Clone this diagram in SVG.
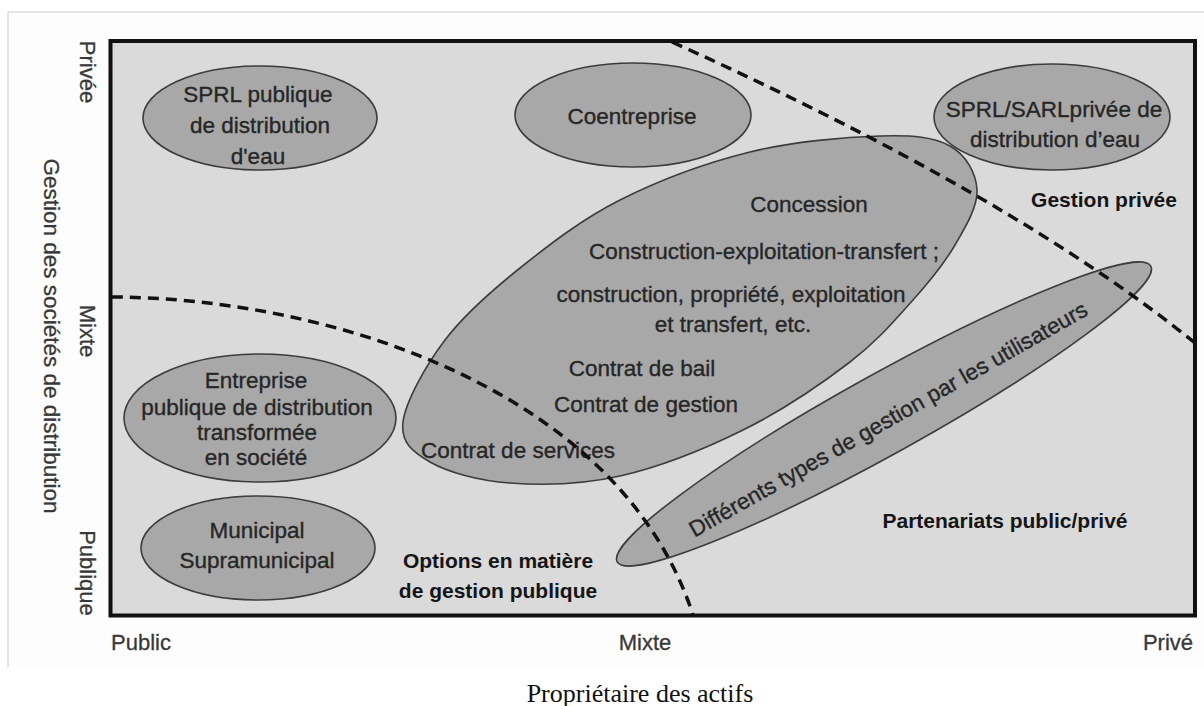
<svg xmlns="http://www.w3.org/2000/svg" width="1204" height="706" viewBox="0 0 1204 706">
<style>
.t{font-family:"Liberation Sans",Arial,sans-serif;font-size:22.5px;fill:#262626;stroke:#262626;stroke-width:0.35;text-anchor:middle}
.b{font-family:"Liberation Sans",Arial,sans-serif;font-size:21px;font-weight:bold;fill:#151515;text-anchor:middle}
.ax{font-family:"Liberation Sans",Arial,sans-serif;font-size:22px;fill:#383838;stroke:#383838;stroke-width:0.3;text-anchor:middle}
.el{fill:#a8a8a8;stroke:#3c3c3c;stroke-width:1.6}
.dash{fill:none;stroke:#111;stroke-width:3.5;stroke-dasharray:11 7}
</style>
<rect x="0" y="0" width="1204" height="706" fill="#ffffff"/>
<g id="frame">
<rect x="8" y="12" width="1196" height="655" fill="#fdfdfd"/>
<line x1="8" y1="12" x2="1204" y2="12" stroke="#dcdcdc" stroke-width="1.5"/>
<line x1="8" y1="12" x2="8" y2="667" stroke="#dcdcdc" stroke-width="1.5"/>
</g>
<g id="plot">
<rect x="110.5" y="41" width="1084.5" height="574.5" fill="#dadada" stroke="#111" stroke-width="4"/>
</g>
<g id="n-concession">
<path class="el" d="M403,422 C405.5,401.7 425.5,365.7 445,340 C464.5,314.3 490.8,291.3 520,268 C549.2,244.7 581.7,219.3 620,200 C658.3,180.7 706.7,162.7 750,152 C793.3,141.3 846.7,137 880,136 C913.3,135 933.8,137 950,146 C966.2,155 976.2,173.5 977,190 C977.8,206.5 965.7,226.7 955,245 C944.3,263.3 930.5,280.5 913,300 C895.5,319.5 878.3,340.3 850,362 C821.7,383.7 781.3,411 743,430 C704.7,449 658.8,467.2 620,476 C581.2,484.8 541.7,485.3 510,483 C478.3,480.7 447.8,472.2 430,462 C412.2,451.8 400.5,442.3 403,422 Z"/>
<text class="t" x="809" y="212">Concession</text>
<text class="t" x="764" y="259">Construction-exploitation-transfert ;</text>
<text class="t" x="731" y="302">construction, propriété, exploitation</text>
<text class="t" x="733" y="332">et transfert, etc.</text>
<text class="t" x="642" y="376">Contrat de bail</text>
<text class="t" x="646" y="412">Contrat de gestion</text>
<text class="t" x="518" y="458">Contrat de services</text>
</g>
<g id="n-utilisateurs">
<ellipse class="el" cx="0" cy="0" rx="305" ry="40" transform="translate(884,414) rotate(-29)"/>
<text class="t" x="0" y="8" transform="translate(888,419) rotate(-29.5)">Différents types de gestion par les utilisateurs</text>
</g>
<g id="n-sprl-publique">
<ellipse class="el" cx="260" cy="118" rx="117" ry="52"/>
<text class="t" x="258" y="102">SPRL publique</text>
<text class="t" x="260" y="133">de distribution</text>
<text class="t" x="258" y="164">d'eau</text>
</g>
<g id="n-coentreprise">
<ellipse class="el" cx="633" cy="115" rx="118" ry="52"/>
<text class="t" x="632" y="124">Coentreprise</text>
</g>
<g id="n-sprl-privee">
<ellipse class="el" cx="1052" cy="117" rx="118" ry="53"/>
<text class="t" x="1054" y="117">SPRL/SARLprivée de</text>
<text class="t" x="1055" y="147">distribution d’eau</text>
</g>
<g id="n-entreprise">
<ellipse class="el" cx="260" cy="418" rx="136" ry="64"/>
<text class="t" x="256" y="388">Entreprise</text>
<text class="t" x="257" y="415">publique de distribution</text>
<text class="t" x="257" y="440">transformée</text>
<text class="t" x="256" y="465">en société</text>
</g>
<g id="n-municipal">
<ellipse class="el" cx="258" cy="548" rx="117" ry="52"/>
<text class="t" x="257" y="538">Municipal</text>
<text class="t" x="257" y="568">Supramunicipal</text>
</g>
<g id="connectors">
<path class="dash" d="M672,42 Q1012.6,195.3 1195,343"/>
<path class="dash" d="M112,297 C330,298 620,390 693,615"/>
</g>
<g id="zone-labels">
<text class="b" x="1104" y="207">Gestion privée</text>
<text class="b" x="1005" y="528">Partenariats public/privé</text>
<text class="b" x="498" y="568">Options en matière</text>
<text class="b" x="498" y="598">de gestion publique</text>
</g>
<g id="axes">
<text class="ax" x="141" y="650">Public</text>
<text class="ax" x="645" y="650">Mixte</text>
<text class="ax" x="1168" y="650">Privé</text>
<text class="ax" transform="translate(80,72) rotate(90)">Privée</text>
<text class="ax" transform="translate(80,331) rotate(90)">Mixte</text>
<text class="ax" transform="translate(80,573) rotate(90)">Publique</text>
<text class="ax" transform="translate(44,336) rotate(90)" style="font-size:22.5px">Gestion des sociétés de distribution</text>
<text x="640" y="702" style="font-family:'Liberation Serif','Times New Roman',serif;font-size:26px;fill:#111;text-anchor:middle">Propriétaire des actifs</text>
</g>
</svg>
